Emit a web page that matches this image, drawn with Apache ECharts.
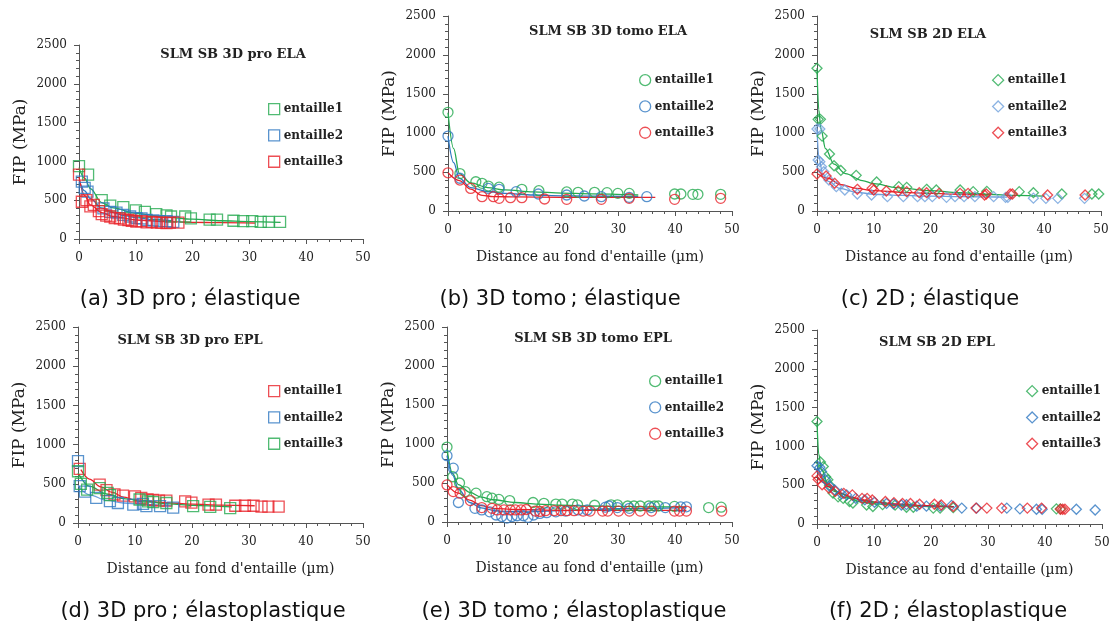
<!DOCTYPE html>
<html><head><meta charset="utf-8">
<script src="https://cdn.jsdelivr.net/npm/echarts@6/dist/echarts.min.js"></script>
<style>html,body{margin:0;padding:0;background:#fff}#c{width:1115px;height:628px}</style>
</head><body><div id="c"></div>
<script>
// ---------- DATA ----------
const xTicks = [0, 10, 20, 30, 40, 50];
const yTicks = [0, 500, 1000, 1500, 2000, 2500];
const legendNames = ['entaille1', 'entaille2', 'entaille3'];
const panelTitles = ['SLM SB 3D pro ELA', 'SLM SB 3D tomo ELA', 'SLM SB 2D ELA', 'SLM SB 3D pro EPL', 'SLM SB 3D tomo EPL', 'SLM SB 2D EPL'];
const captions = ['(a) 3D pro\u2009; élastique', '(b) 3D tomo\u2009; élastique', '(c) 2D\u2009; élastique', '(d) 3D pro\u2009; élastoplastique', '(e) 3D tomo\u2009; élastoplastique', '(f) 2D\u2009; élastoplastique'];
const xName = "Distance au fond d'entaille (µm)";
const yName = 'FIP (MPa)';

// (a) 3D pro ELA
const a_e1 = [[0,940],[1.6,830],[4,500],[5.5,430],[7.8,410],[10,370],[11.6,350],[13.6,320],[15.4,305],[16.2,290],[18.7,290],[19.7,265],[23,250],[24.3,250],[27.2,235],[28.9,230],[30.5,230],[32,220],[33.4,220],[35.4,220]];
const a_e2 = [[0.5,740],[1,660],[1.5,610],[4.3,395],[5.5,350],[6.6,340],[7.8,310],[9,290],[10.1,270],[11,265],[11.9,245],[13.1,240],[14.2,230],[15.4,230],[16.6,220]];
const a_e3 = [[0,830],[0.5,480],[1.3,500],[2,420],[2.6,440],[3.5,360],[4,320],[4.8,300],[5.5,290],[6.3,270],[7.2,265],[7.9,250],[8.7,245],[9.3,235],[10.1,225],[11,230],[11.9,215],[12.8,220],[13.7,210],[14.5,210],[15.4,205],[16,210],[17.5,210]];
const a_f1 = [[0,920],[1,780],[2,650],[4,470],[6,400],[10,330],[15,285],[20,255],[25,235],[30,225],[35.5,215]];
const a_f2 = [[0,760],[1,620],[2,520],[4,400],[6,340],[8,300],[10,275],[13,250],[16.5,235]];
const a_f3 = [[0,800],[1,560],[2,440],[4,340],[6,290],[10,245],[15,225],[20,215],[25,210],[31,205]];
// (b) 3D tomo ELA
const b_e1 = [[0,1265],[2.1,480],[4.9,375],[6,355],[7.1,320],[9,305],[13,278],[16,260],[20.9,244],[22.9,240],[25.8,240],[28,235],[29.9,226],[31.9,226],[39.9,218],[41,218],[43.1,214],[44,214],[48,214]];
const b_e2 = [[0,960],[2.1,420],[7.1,290],[9,278],[12,248],[15.9,218],[20.9,205],[24,192],[27,184],[31.9,175],[35,184]];
const b_e3 = [[0,490],[2.1,397],[4,290],[6,184],[8,184],[9,162],[11,171],[13,171],[17,154],[20.9,150],[27,150],[31.9,162],[39.9,150],[48,162]];
const b_f1 = [[0,1260],[1,800],[2,480],[4,360],[7,300],[10,270],[15,245],[20,230],[25,220],[33.5,205]];
const b_f2 = [[0,960],[1,620],[2,420],[4,300],[7,250],[10,225],[15,205],[20,195],[25,190],[33.5,185]];
const b_f3 = [[0,490],[2,390],[4,280],[6,200],[8,185],[12,180],[20,175],[30,175],[36.5,175]];
// (c) 2D ELA
const c_e1 = [[0,1830],[0.2,1175],[0.6,1175],[0.9,960],[2.2,730],[3,580],[4.2,520],[6.9,457],[10.5,372],[14.4,312],[15.8,303],[19.3,278],[21,269],[25.2,269],[27.5,248],[29.9,252],[35.6,248],[38.1,235],[43.1,218],[48.4,218],[49.6,218]];
const c_e2 = [[0,1051],[0.5,1051],[0.2,654],[0.5,632],[0.8,568],[1.2,504],[2.1,397],[3.4,312],[4.9,269],[7.1,218],[9.6,205],[12.4,184],[15.2,184],[17.7,184],[19,184],[20.3,184],[22.8,175],[24.3,184],[25.9,184],[27.8,184],[31.1,184],[33.2,175],[33.6,175],[38.1,165],[40.3,162],[42.4,162],[47.1,162]];
const c_e3 = [[0,474],[1.6,449],[3.1,355],[7.1,278],[9.7,291],[10,269],[12.2,256],[14.3,256],[15.8,248],[18,235],[19.3,235],[21.5,226],[25.2,226],[26.6,226],[29.5,205],[29.8,218],[34,218],[34.4,218],[40.6,205],[47.2,205]];
const c_f1 = [[0,1830],[0.3,1300],[0.7,1050],[1.5,800],[3,600],[5,480],[8,390],[10,350],[14,300],[20,260],[25,235],[30,215],[35,200],[40,190]];
const c_f2 = [[0,1060],[0.3,700],[1,480],[2,380],[4,290],[7,240],[10,215],[15,200],[20,190],[25,185],[30,180],[33.5,178]];
const c_f3 = [[0,480],[2,420],[4,340],[7,290],[10,260],[15,240],[20,225],[25,215],[30,205]];
// (d) 3D pro EPL
const d_e1 = [[0.3,690],[3.8,490],[5,420],[6.4,365],[7.9,350],[10,340],[11.1,320],[12.2,300],[13.2,295],[14.2,285],[15.5,285],[18.8,275],[19.9,260],[22.9,235],[24.2,235],[27.6,220],[29.3,220],[30.8,220],[32.2,210],[33.4,210],[35.2,210]];
const d_e2 = [[0,790],[0.3,470],[1.2,400],[3.2,320],[5.6,280],[7,255],[9.7,235],[11.4,245],[12,215],[14.4,215],[16.7,195]];
const d_e3 = [[0,660],[0.5,500],[1.6,425],[3.8,445],[5.2,385],[5.6,355],[10.8,300],[12.3,275],[13.2,265],[15.5,255],[20.2,215],[23.2,205],[26.7,190]];
const d_f1 = [[0.5,680],[2,560],[4,460],[6,390],[8,330],[10,295],[15,260],[20,240],[25,228],[31,220]];
const d_f2 = [[0,480],[2,360],[5,290],[8,255],[12,235],[16.5,220]];
const d_f3 = [[0,640],[2,470],[5,370],[8,310],[12,270],[16,245],[20,225],[27,205]];
// (e) 3D tomo EPL
const e_e1 = [[0,960],[1,580],[2.2,500],[3.2,390],[5.1,370],[7,325],[7.9,305],[9.1,290],[11,275],[15.1,250],[17,240],[19.1,230],[20.2,230],[22,230],[22.9,220],[25.9,215],[28.8,220],[29.9,220],[31.7,205],[32.8,205],[33.9,205],[35.4,205],[36.4,205],[37.1,205],[39.9,200],[45.9,185],[48.1,190]];
const e_e2 = [[0,850],[1.1,690],[2,250],[4.9,175],[6.1,155],[7.5,130],[8.6,90],[9.6,70],[10.5,50],[11.4,70],[12.3,80],[13.4,80],[14.2,60],[15.2,90],[16.3,110],[17.5,120],[19.1,130],[20.8,140],[23,155],[24.6,155],[27.8,190],[28.4,205],[29.9,185],[32,175],[35.8,185],[38.3,185],[41,195],[42,195]];
const e_e3 = [[0,475],[1.1,390],[2.3,370],[4.1,275],[6.1,185],[7.9,175],[8.8,155],[10,155],[11.1,155],[12,155],[13,155],[13.9,160],[15.5,140],[16.3,135],[17.3,145],[18.8,145],[20,145],[21.1,145],[22.3,145],[23.9,140],[25.1,140],[27.3,140],[28.2,140],[30.1,140],[32,140],[33.9,140],[35.9,140],[39.9,140],[40.8,140],[42,140],[48.2,140]];
const e_f1 = [[0,940],[1,620],[2,480],[4,380],[6,320],[8,285],[12,250],[16,230],[20,215],[25,205],[30,200],[36,195],[42,195]];
const e_f2 = [[0,850],[1,600],[2,420],[4,250],[6,180],[9,140],[13,130],[20,145],[30,170],[42,185]];
const e_f3 = [[0,480],[2,370],[4,280],[6,210],[8,175],[12,160],[20,150],[30,150],[42,150]];
// (f) 2D EPL
const f_e1 = [[0,1320],[0.6,800],[1.1,740],[1.5,610],[1.9,570],[2.2,500],[2.8,400],[3.7,350],[4.6,330],[5.7,290],[6.3,270],[8.7,245],[9.8,225],[11.5,250],[13.7,245],[15.7,215],[16.9,215],[20.4,205],[21.6,205],[23.9,210],[42,195],[42.7,195]];
const f_e2 = [[0,750],[0.5,730],[0.8,675],[1.5,570],[2.3,480],[3.1,440],[4.3,390],[5.2,375],[6.8,330],[8.4,310],[10.1,280],[12.2,265],[13.4,260],[14.8,245],[15.7,250],[17.5,230],[19.2,230],[21.6,230],[23.6,240],[25.4,205],[28,205],[33.3,205],[35.6,195],[38.5,190],[39.5,190],[45.5,190],[48.8,180]];
const f_e3 = [[0,620],[0.2,575],[0.9,505],[2.1,460],[3.2,420],[4.7,395],[6.2,375],[7.9,330],[8.8,330],[9.7,310],[12,290],[13.5,275],[15,265],[16.4,265],[18,255],[20.6,255],[21.8,245],[23.9,225],[27.9,205],[29.8,205],[32.4,205],[36.9,205],[39.4,205],[42.7,190],[43.1,190],[43.5,190]];
const f_f1 = [[0,1320],[0.3,900],[0.8,700],[2,500],[3,420],[5,340],[8,280],[10,260],[15,235],[20,225],[24,220]];
const f_f2 = [[0,760],[1,620],[2,510],[4,400],[6,340],[8,300],[10,275],[15,245],[20,230],[24,225]];
const f_f3 = [[0,620],[1,540],[2,480],[4,400],[6,350],[8,310],[10,285],[14,260],[18,240],[24,220]];

// ---------- STYLE / LAYOUT ----------
const GREEN = '#25aa50', BLUE = '#2f78c2', RED = '#e8232a', LBLUE = '#6fa0dc', DRED = '#c81e2c';
const panels = [
  {id:'a', grid:{left:79, top:45, width:284, height:194}, sym:'rect', size:11, pts:[a_e1,a_e2,a_e3], fits:[a_f1,a_f2,a_f3], cols:[GREEN,BLUE,RED], fitCols:[GREEN,BLUE,RED], xname:false,
   title:[233,55], leg:{x:268, y:103}, cap:[190,300]},
  {id:'b', grid:{left:448, top:16, width:284, height:195}, sym:'circle', size:10, pts:[b_e1,b_e2,b_e3], fits:[b_f1,b_f2,b_f3], cols:[GREEN,BLUE,RED], fitCols:[GREEN,BLUE,RED], xname:true,
   title:[608,32], leg:{x:639, y:74}, cap:[560,300]},
  {id:'c', grid:{left:817, top:16, width:284, height:195}, sym:'diamond', size:10, pts:[c_e1,c_e2,c_e3], fits:[c_f1,c_f2,c_f3], cols:[GREEN,LBLUE,RED], fitCols:[GREEN,LBLUE,RED], xname:true,
   title:[928,35], leg:{x:992, y:74}, cap:[930,300]},
  {id:'d', grid:{left:78, top:327, width:285, height:196}, sym:'rect', size:11, pts:[d_e1,d_e2,d_e3], fits:[d_f1,d_f2,d_f3], cols:[RED,BLUE,GREEN], fitCols:[RED,LBLUE,GREEN], xname:true,
   title:[190,341], leg:{x:268, y:385}, cap:[203,612]},
  {id:'e', grid:{left:447, top:327, width:285, height:195}, sym:'circle', size:10, pts:[e_e1,e_e2,e_e3], fits:[e_f1,e_f2,e_f3], cols:[GREEN,BLUE,RED], fitCols:[GREEN,BLUE,RED], xname:true,
   title:[593,339], leg:{x:649, y:375}, cap:[574,612]},
  {id:'f', grid:{left:817, top:330, width:285, height:194}, sym:'diamond', size:10, pts:[f_e1,f_e2,f_e3], fits:[f_f1,f_f2,f_f3], cols:[GREEN,BLUE,RED], fitCols:[GREEN,BLUE,DRED], xname:true,
   title:[937,343], leg:{x:1026, y:385}, cap:[948,612]}
];

const SERIF = 'DejaVu Serif';
const grids = [], xAxes = [], yAxes = [], series = [], legends = [], graphics = [];
panels.forEach((p, i) => {
  grids.push(Object.assign({containLabel:false}, p.grid));
  const axisLine = {show:true, lineStyle:{color:'#555', width:1}};
  xAxes.push({
    gridIndex:i, type:'value', min:xTicks[0], max:xTicks[xTicks.length-1], interval:xTicks[1]-xTicks[0],
    axisLine, axisTick:{show:true, length:5, lineStyle:{color:'#555'}},
    minorTick:{show:true, splitNumber:5, length:3, lineStyle:{color:'#555'}},
    splitLine:{show:false},
    axisLabel:{fontFamily:SERIF, fontSize:12, color:'#222', margin:13, formatter: v => String(v)},
    name: p.xname ? xName : '', nameLocation:'middle', nameGap:39,
    nameTextStyle:{fontFamily:SERIF, fontSize:14, color:'#222'}
  });
  yAxes.push({
    gridIndex:i, type:'value', min:yTicks[0], max:yTicks[yTicks.length-1], interval:yTicks[1]-yTicks[0],
    axisLine, axisTick:{show:true, length:5, lineStyle:{color:'#555'}},
    minorTick:{show:true, splitNumber:5, length:3, lineStyle:{color:'#555'}},
    splitLine:{show:false},
    axisLabel:{fontFamily:SERIF, fontSize:12, color:'#222', margin:12, formatter: v => String(v)},
    name: yName, nameLocation:'middle', nameGap:50,
    nameTextStyle:{fontFamily:SERIF, fontSize:17, color:'#222'}
  });
  const legData = [];
  for (let k = 0; k < 3; k++) {
    series.push({
      name: p.id + (k+1), type:'line', xAxisIndex:i, yAxisIndex:i, data:p.fits[k],
      showSymbol:false, symbol:'none', smooth:0.35, smoothMonotone:'x', silent:true,
      lineStyle:{color:p.fitCols[k], width:1.3}, z:2
    });
  }
  for (let k = 0; k < 3; k++) {
    const nm = p.id + '|' + legendNames[k];
    series.push({
      name: nm, type:'scatter', xAxisIndex:i, yAxisIndex:i, data:p.pts[k],
      symbol:p.sym, symbolSize:p.size,
      itemStyle:{color:'rgba(255,255,255,0)', borderColor:p.cols[k], borderWidth:1.3}, z:3
    });
    legData.push({name:nm, icon:p.sym, itemStyle:{color:'rgba(255,255,255,0)', borderColor:p.cols[k], borderWidth:1.3}});
  }
  legends.push({
    data:legData, orient:'vertical', left:p.leg.x, top:p.leg.y, itemGap:14, itemWidth:11, itemHeight:11,
    padding:0, selectedMode:false,
    formatter: n => n.split('|')[1],
    textStyle:{fontFamily:SERIF, fontSize:12, fontWeight:'bold', color:'#222', padding:[0,0,0,-1]}
  });
  graphics.push({type:'text', x:p.title[0], y:p.title[1],
    style:{text:panelTitles[i], x:0, y:0, textAlign:'center', textVerticalAlign:'middle', font:'bold 13px "DejaVu Serif"', fill:'#222'}});
  graphics.push({type:'text', x:p.cap[0], y:p.cap[1],
    style:{text:captions[i], x:0, y:0, textAlign:'center', textVerticalAlign:'middle', font:'21px "DejaVu Sans"', fill:'#111'}});
});

const chart = echarts.init(document.getElementById('c'), null, {renderer:'canvas'});
chart.setOption({
  animation:false, backgroundColor:'#fff',
  grid:grids, xAxis:xAxes, yAxis:yAxes, series, legend:legends, graphic:graphics
});
</script></body></html>
